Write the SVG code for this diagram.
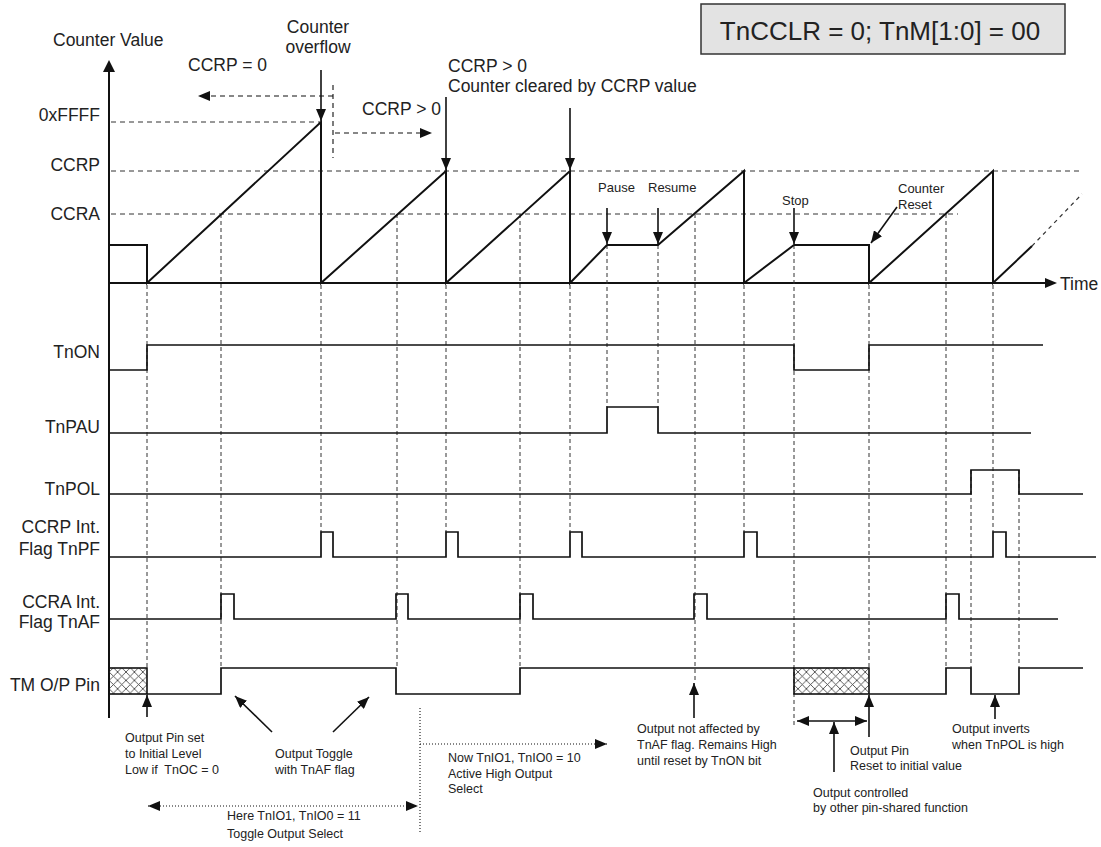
<svg xmlns="http://www.w3.org/2000/svg" width="1101" height="847" viewBox="0 0 1101 847">
<style>
text{font-family:"Liberation Sans",Arial,sans-serif;fill:#222}
.lbl{font-size:17.5px}
.lblr{font-size:17.5px;text-anchor:end}
.sm{font-size:13px}
.note{font-size:12.5px}
.wave{fill:none;stroke:#111;stroke-width:2;stroke-linejoin:miter}
.sig{fill:none;stroke:#111;stroke-width:1.7}
.lvl{fill:none;stroke:#333;stroke-width:1;stroke-dasharray:5,4}
.vd{fill:none;stroke:#333;stroke-width:1;stroke-dasharray:4,3}
.arr{fill:none;stroke:#111;stroke-width:1.6;marker-end:url(#ah)}
.darr{fill:none;stroke:#111;stroke-width:1.1;stroke-dasharray:5,4;marker-end:url(#ah)}
.dot{fill:none;stroke:#111;stroke-width:1.1;stroke-dasharray:1,2}
</style>
<defs>
<marker id="ah" viewBox="0 0 12 10" refX="12" refY="5" markerWidth="12" markerHeight="10" markerUnits="userSpaceOnUse" orient="auto-start-reverse">
<path d="M0,0 L12,5 L0,10 z" fill="#111"/>
</marker>
<pattern id="hatch" patternUnits="userSpaceOnUse" width="8.4" height="8.4">
<path d="M0,0 L8.4,8.4 M8.4,0 L0,8.4" stroke="#333" stroke-width="0.8"/>
</pattern>
</defs>
<rect width="1101" height="847" fill="#fff"/>

<g id="mode-box">
<rect x="701" y="4" width="364" height="50" fill="#e3e3e3" stroke="#333" stroke-width="1.5"/>
<text x="880" y="40" style="font-size:26px;text-anchor:middle">TnCCLR = 0; TnM[1:0] = 00</text>
</g>

<g id="axes">
<line x1="109" y1="70" x2="109" y2="718" stroke="#111" stroke-width="2"/>
<path d="M103,72 L109,60 L115,72 z" fill="#111"/>
<line x1="109" y1="283" x2="1045" y2="283" stroke="#111" stroke-width="2"/>
<path d="M1045,278 L1057,283 L1045,288 z" fill="#111"/>
<text class="lbl" x="53" y="46">Counter Value</text>
<text class="lbl" x="1060" y="290">Time</text>
<text class="lblr" x="100" y="121">0xFFFF</text>
<text class="lblr" x="100" y="171">CCRP</text>
<text class="lblr" x="100" y="220">CCRA</text>
</g>

<g id="levels">
<line class="lvl" x1="111" y1="122" x2="321" y2="122"/>
<line class="lvl" x1="111" y1="171" x2="1083" y2="171"/>
<line class="lvl" x1="111" y1="214" x2="958" y2="214"/>
</g>

<g id="guides">
<path class="vd" d="M147,285V667 M221,214V668 M321,285V532 M397,214V668 M446,285V532 M520,214V668 M570,285V532 M607,245V407 M658,245V407 M695,214V683 M744,285V532 M794,245V728 M869,285V668 M946,214V668 M993,285V532 M971,470V668 M1019,470V668"/>
</g>

<g id="counter">
<path class="wave" d="M109,245 H147 V283 L321,122 V283 L446,171 V283 L570,171 V283 L607,245 H658 L744,171 V283 L794,245 H869 V283 L993,171 V283 L1032,246"/>
<path d="M1032,246 L1082,194" fill="none" stroke="#333" stroke-width="1.2" stroke-dasharray="4,4"/>
</g>

<g id="TnON">
<text class="lblr" x="100" y="358">TnON</text>
<path class="sig" d="M109,370 H147 V345 H794 V370 H869 V345 H1043"/>
</g>
<g id="TnPAU">
<text class="lblr" x="100" y="433">TnPAU</text>
<path class="sig" d="M109,433 H607 V407 H658 V433 H1031"/>
</g>
<g id="TnPOL">
<text class="lblr" x="100" y="495">TnPOL</text>
<path class="sig" d="M109,494 H971 V470 H1019 V494 H1083"/>
</g>
<g id="TnPF">
<text class="lblr" x="100" y="533">CCRP Int.</text>
<text class="lblr" x="100" y="555">Flag TnPF</text>
<path class="sig" d="M109,557 H321 V532 H333 V557 H446 V532 H458 V557 H570 V532 H582 V557 H744 V532 H757 V557 H993 V532 H1006 V557 H1096"/>
</g>
<g id="TnAF">
<text class="lblr" x="100" y="608">CCRA Int.</text>
<text class="lblr" x="100" y="628">Flag TnAF</text>
<path class="sig" d="M109,619 H221 V594 H234 V619 H396 V594 H408 V619 H520 V594 H533 V619 H694 V594 H707 V619 H946 V594 H959 V619 H1058"/>
</g>
<g id="TMOP">
<text class="lblr" x="100" y="691">TM O/P Pin</text>
<rect x="109" y="668" width="38" height="26" fill="url(#hatch)" stroke="#111" stroke-width="1.6"/>
<path class="sig" d="M147,694 H221 V668 H396 V694 H520 V668 H794"/>
<rect x="794" y="668" width="75" height="26" fill="url(#hatch)" stroke="#111" stroke-width="1.6"/>
<path class="sig" d="M869,694 H946 V668 H971 V694 H1019 V668 H1083"/>
</g>

<g id="connectors">
<line class="arr" x1="321" y1="70" x2="321" y2="121"/>
<line class="arr" x1="446" y1="97" x2="446" y2="170"/>
<line class="arr" x1="570" y1="108" x2="570" y2="170"/>
<line class="arr" x1="607" y1="208" x2="607" y2="244"/>
<line class="arr" x1="658" y1="208" x2="658" y2="244"/>
<line class="arr" x1="794" y1="208" x2="794" y2="244"/>
<line class="arr" x1="897" y1="207" x2="871" y2="243"/>
<path class="darr" d="M333,96 H198"/>
<path d="M333,85 V158" fill="none" stroke="#111" stroke-width="1.1" stroke-dasharray="5,4"/>
<path class="darr" d="M335,133 H432"/>
<line class="arr" x1="147" y1="717" x2="147" y2="695"/>
<line class="arr" x1="272" y1="732" x2="235" y2="696"/>
<line class="arr" x1="333" y1="732" x2="369" y2="697"/>
<line class="arr" x1="694" y1="718" x2="694" y2="683"/>
<line class="arr" x1="869" y1="737" x2="869" y2="695"/>
<line class="arr" x1="834" y1="772" x2="834" y2="722"/>
<line class="arr" x1="995" y1="719" x2="995" y2="695"/>
<line x1="797" y1="721" x2="867" y2="721" stroke="#111" stroke-width="1.6" marker-start="url(#ah)" marker-end="url(#ah)"/>
<line class="dot" x1="148" y1="806" x2="418" y2="806" marker-start="url(#ah)" marker-end="url(#ah)"/>
<line class="dot" x1="420" y1="708" x2="420" y2="832"/>
<line class="dot" x1="420" y1="744" x2="607" y2="744" marker-end="url(#ah)"/>
</g>

<g id="top-labels">
<text class="lbl" x="318" y="33" text-anchor="middle">Counter</text>
<text class="lbl" x="318" y="53" text-anchor="middle">overflow</text>
<text class="lbl" x="188" y="71">CCRP = 0</text>
<text class="lbl" x="362" y="115">CCRP &gt; 0</text>
<text class="lbl" x="448" y="72">CCRP &gt; 0</text>
<text class="lbl" x="448" y="92">Counter cleared by CCRP value</text>
<text class="sm" x="598" y="192">Pause</text>
<text class="sm" x="648" y="192">Resume</text>
<text class="sm" x="782" y="205">Stop</text>
<text class="sm" x="898" y="193">Counter</text>
<text class="sm" x="898" y="209">Reset</text>
</g>

<g id="notes">
<text class="note" x="125" y="742">Output Pin set</text>
<text class="note" x="125" y="758">to Initial Level</text>
<text class="note" x="125" y="774" xml:space="preserve">Low if  TnOC = 0</text>
<text class="note" x="275" y="758">Output Toggle</text>
<text class="note" x="275" y="774">with TnAF flag</text>
<text class="note" x="227" y="820">Here TnIO1, TnIO0 = 11</text>
<text class="note" x="227" y="838">Toggle Output Select</text>
<text class="note" x="448" y="762">Now TnIO1, TnIO0 = 10</text>
<text class="note" x="448" y="778">Active High Output</text>
<text class="note" x="448" y="793">Select</text>
<text class="note" x="637" y="733">Output not affected by</text>
<text class="note" x="637" y="749">TnAF flag. Remains High</text>
<text class="note" x="637" y="765">until reset by TnON bit</text>
<text class="note" x="850" y="755">Output Pin</text>
<text class="note" x="850" y="770">Reset to initial value</text>
<text class="note" x="813" y="797">Output controlled</text>
<text class="note" x="813" y="812">by other pin-shared function</text>
<text class="note" x="952" y="733">Output inverts</text>
<text class="note" x="952" y="749">when TnPOL is high</text>
</g>
</svg>
